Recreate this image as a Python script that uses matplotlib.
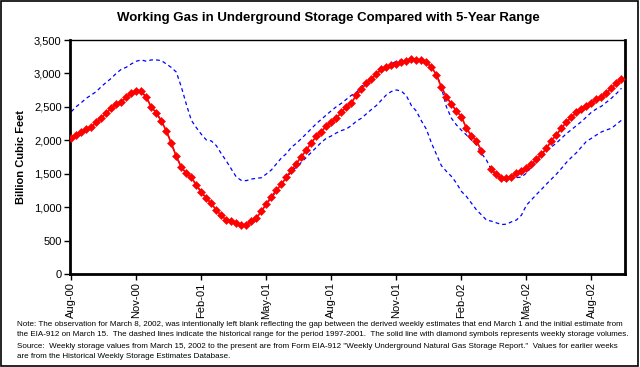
import numpy as np
import pandas as pd
import matplotlib
matplotlib.use("Agg")
import matplotlib.pyplot as plt
from matplotlib.patches import Rectangle

# weekly working gas (Bcf), Fridays from Aug 4, 2000; Mar 8, 2002 left blank
storage = [2030, 2075, 2124, 2164, 2194, 2269, 2329, 2409, 2478, 2543,
           2573, 2643, 2708, 2743, 2733, 2643, 2498, 2413, 2289, 2144,
           1955, 1760, 1598, 1506, 1446, 1331, 1225, 1135, 1057, 952,
           878, 803, 790, 770, 733, 738, 793, 838, 937, 1047,
           1157, 1252, 1341, 1446, 1551, 1651, 1755, 1855, 1964, 2059,
           2129, 2214, 2279, 2329, 2419, 2503, 2563, 2673, 2763, 2853,
           2913, 2988, 3062, 3092, 3122, 3142, 3167, 3192, 3216, 3202,
           3202, 3177, 3092, 2982, 2793, 2653, 2539, 2438, 2354, 2179,
           2069, 1990, 1845, np.nan, 1566, 1491, 1441, 1441, 1456, 1506,
           1541, 1581, 1641, 1716, 1791, 1880, 1994, 2084, 2179, 2274,
           2344, 2419, 2473, 2518, 2558, 2618, 2653, 2708, 2778, 2853,
           2913]

# 5-year range 1997-2001, same weeks
range_max = [2428, 2503, 2563, 2628, 2678, 2728, 2802, 2867, 2927, 3002,
             3062, 3092, 3142, 3182, 3202, 3182, 3202, 3202, 3192, 3142,
             3090, 3020, 2800, 2540, 2300, 2190, 2090, 2005, 1990, 1920,
             1800, 1690, 1570, 1450, 1400, 1396, 1420, 1431, 1440, 1496,
             1556, 1646, 1735, 1800, 1895, 1955, 2025, 2099, 2174, 2249,
             2314, 2379, 2443, 2503, 2553, 2613, 2673, 2713, 2802, 2867,
             2927, 3002, 3062, 3092, 3142, 3182, 3202, 3182, 3202, 3202,
             3192, 3142, 3090, 3000, 2790, 2500, 2330, 2230, 2150, 2080,
             2005, 1930, 1805, 1705, 1560, 1480, 1420, 1396, 1425, 1441,
             1450, 1510, 1600, 1680, 1770, 1850, 1900, 1960, 2030, 2100,
             2160, 2220, 2280, 2350, 2420, 2470, 2510, 2570, 2630, 2700,
             2778]
range_min = [2030, 2075, 2124, 2164, 2194, 2269, 2329, 2409, 2478, 2543,
             2573, 2643, 2708, 2743, 2733, 2643, 2498, 2413, 2289, 2144,
             1955, 1760, 1598, 1506, 1446, 1331, 1225, 1135, 1057, 952,
             878, 803, 790, 770, 733, 738, 793, 838, 937, 1047,
             1140, 1235, 1330, 1430, 1530, 1600, 1670, 1745, 1820, 1895,
             1970, 2030, 2065, 2110, 2145, 2170, 2220, 2285, 2330, 2395,
             2460, 2520, 2600, 2680, 2730, 2753, 2735, 2665, 2520, 2435,
             2290, 2165, 1960, 1790, 1620, 1535, 1460, 1360, 1235, 1160,
             1060, 960, 885, 808, 790, 765, 740, 745, 780, 808,
             880, 1030, 1110, 1190, 1265, 1345, 1420, 1495, 1580, 1670,
             1745, 1815, 1900, 1985, 2030, 2080, 2125, 2155, 2180, 2240,
             2300]

weeks = pd.date_range("2000-08-04", periods=len(storage), freq="7D")
tick_step = 13

note_lines = [
    "Note: The observation for March 8, 2002, was intentionally left blank reflecting the gap between the derived weekly estimates that end March 1 and the initial estimate from",
    "the EIA-912 on March 15.  The dashed lines indicate the historical range for the period 1997-2001.  The solid line with diamond symbols represents weekly storage volumes.",
    "Source:  Weekly storage values from March 15, 2002 to the present are from Form EIA-912 \"Weekly Underground Natural Gas Storage Report.\"  Values for earlier weeks",
    "are from the Historical Weekly Storage Estimates Database.",
]

narrow = ["Liberation Sans Narrow", "Liberation Sans", "DejaVu Sans"]
plt.rcParams["font.family"] = ["Liberation Sans", "DejaVu Sans"]

fig = plt.figure(figsize=(6.4, 3.67), dpi=100)
ax = fig.add_axes([70 / 640, 1 - 274 / 367, 555 / 640, 234 / 367])

x = np.arange(len(storage))
ax.plot(x, range_max, color="#0000ff", lw=0.9, ls=(0, (3, 2.5)), zorder=2)
ax.plot(x, range_min, color="#0000ff", lw=0.9, ls=(0, (3, 2.5)), zorder=2)
ax.plot(x, storage, color="#ff0000", lw=1.3, marker="D", ms=4.2, mew=0.4,
        mec="#ff0000", mfc="#ff0000", zorder=3)

ax.set_xlim(-0.25, 110.7)
ax.set_ylim(0, 3500)
ax.set_yticks(range(0, 3501, 500))
ax.set_yticklabels([f"{v:,}" for v in range(0, 3501, 500)], fontsize=8)
ticks = list(range(0, len(weeks), tick_step))
ax.set_xticks(ticks)
ax.set_xticklabels([weeks[i].strftime("%b-%y") for i in ticks],
                   rotation=90, fontsize=8)
ax.tick_params(direction="out", length=4, width=1, color="black", pad=2)

for side, w in [("left", 2), ("bottom", 2), ("right", 2), ("top", 1)]:
    ax.spines[side].set_linewidth(w)
    ax.spines[side].set_color("black")

ax.set_ylabel("Billion Cubic Feet", fontsize=8, fontweight="bold", labelpad=6)

fig.text(0.5125, 1 - 18 / 367, "Working Gas in Underground Storage Compared with 5-Year Range",
         ha="center", va="center", fontsize=9.5, fontweight="bold", family=narrow)

for i, line in enumerate(note_lines):
    fig.text(17 / 640, 1 - (324 + i * 11) / 367, line, ha="left", va="center",
             fontsize=5.78, family=narrow)

fig.patches.append(Rectangle((0.001, 0.002), 0.996, 0.995, transform=fig.transFigure,
                             fill=False, ec="black", lw=1.2))

fig.savefig("out.png", dpi=100)
